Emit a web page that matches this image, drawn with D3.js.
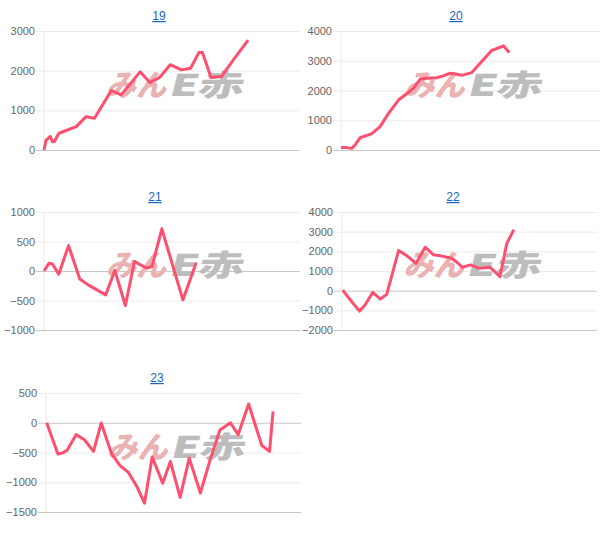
<!DOCTYPE html>
<head>
    <meta charset="utf-8">
    <style>
        body { margin: 0; background: #fff; }
        svg { display: block; font-family: Arial, "Liberation Sans", sans-serif; }
        .title { fill: #1565c0; font-size: 12px; text-decoration: underline; }
        .tick text { fill: #666; font-size: 11px; }
    </style>
</head>
<body>
    <script src="https://d3js.org/d3.v7.min.js"></script>
    <script>
        const w = 608, h = 540;

        // one series per season, x = day of year, y = running balance
        const titles = ['19', '20', '21', '22', '23'];
        const days19 = [0, 3, 9, 12, 15, 21, 27, 46, 60, 72, 96, 110, 137, 151, 165, 180, 196, 209, 221, 226, 238, 253, 270, 291];
        const vals19 = [0, 250, 340, 210, 215, 420, 460, 590, 840, 800, 1500, 1390, 1970, 1700, 1830, 2150, 2020, 2060, 2460, 2460, 1830, 1850, 2270, 2770];
        const days20 = [0, 8, 15, 20, 27, 34, 43, 55, 67, 81, 93, 102, 112, 121, 135, 144, 154, 161, 170, 184, 198, 212, 226, 229, 237];
        const vals20 = [80, 80, 55, 170, 415, 470, 540, 785, 1230, 1680, 1900, 2070, 2390, 2410, 2430, 2490, 2580, 2555, 2510, 2600, 2970, 3340, 3470, 3500, 3280];
        const days21 = [0, 7, 12, 21, 35, 51, 63, 88, 101, 116, 129, 146, 154, 168, 198, 217];
        const vals21 = [0, 130, 120, -55, 430, -135, -235, -405, 10, -585, 160, 50, 75, 715, -490, 145];
        const days22 = [1, 12, 25, 33, 44, 55, 64, 81, 93, 106, 119, 131, 141, 157, 165, 172, 184, 196, 212, 226, 236, 246];
        const vals22 = [30, -475, -1040, -730, -85, -425, -190, 2040, 1770, 1395, 2210, 1820, 1770, 1650, 1430, 1190, 1310, 1140, 1190, 715, 2415, 3095];
        const days23 = [1, 17, 23, 30, 43, 55, 68, 79, 94, 106, 118, 130, 141, 152, 167, 178, 192, 205, 221, 235, 249, 264, 275, 290, 309, 320, 325];
        const vals23 = [0, -525, -510, -465, -200, -285, -480, -5, -525, -720, -835, -1070, -1350, -575, -1015, -650, -1255, -595, -1180, -620, -120, 0, -200, 315, -385, -480, 190];

        const ticks19 = [0, 1000, 2000, 3000];
        const ticks20 = [0, 1000, 2000, 3000, 4000];
        const ticks21 = [-1000, -500, 0, 500, 1000];
        const ticks22 = [-2000, -1000, 0, 1000, 2000, 3000, 4000];
        const ticks23 = [-1500, -1000, -500, 0, 500];

        const series = [
            { days: days19, vals: vals19, ticks: ticks19 },
            { days: days20, vals: vals20, ticks: ticks20 },
            { days: days21, vals: vals21, ticks: ticks21 },
            { days: days22, vals: vals22, ticks: ticks22 },
            { days: days23, vals: vals23, ticks: ticks23 }
        ];

        // panel boxes on the page
        const boxes = [
            { l: 44, r: 300, t: 31, b: 150, tx: 159, ty: 20 },
            { l: 341, r: 600, t: 31, b: 150, tx: 456, ty: 20 },
            { l: 44, r: 300, t: 212, b: 330, tx: 155, ty: 201 },
            { l: 342, r: 597, t: 212, b: 330, tx: 453, ty: 201 },
            { l: 46, r: 301, t: 393, b: 512, tx: 157, ty: 382 }
        ];

        var svg = d3.select('body')
                    .append('svg')
                    .attr('width', w)
                    .attr('height', h);

        series.forEach((s, i) => {
            const bx = boxes[i];
            const x = d3.scaleLinear().domain([0, 365]).range([bx.l, bx.r]);
            const y = d3.scaleLinear().domain(d3.extent(s.ticks)).range([bx.b, bx.t]);
            const g = svg.append('g');

            g.append('text')
             .attr('class', 'title')
             .attr('x', bx.tx)
             .attr('y', bx.ty)
             .attr('text-anchor', 'middle')
             .text(titles[i]);

            // grid + labels
            const ax = g.append('g')
                        .attr('transform', `translate(${bx.l},0)`)
                        .call(d3.axisLeft(y)
                                .tickValues(s.ticks)
                                .tickFormat(d3.format('d'))
                                .tickSize(-(bx.r - bx.l))
                                .tickPadding(9));
            ax.select('.domain').remove();
            ax.selectAll('.tick line')
              .attr('x1', -8)
              .attr('stroke', d => (d === 0 || d === s.ticks[0]) ? '#c8c8c8' : '#ececec');
            g.append('line')
             .attr('x1', bx.l).attr('x2', bx.l)
             .attr('y1', bx.t).attr('y2', bx.b)
             .attr('stroke', '#ececec');

            // watermark
            const cx = (bx.l + bx.r) / 2, cy = (bx.t + bx.b) / 2 + 5;
            const wm = g.append('g')
                        .attr('transform', `translate(${cx},${cy}) skewX(-14)`)
                        .style('font-family', '"Noto Sans CJK JP", sans-serif')
                        .style('font-weight', '900')
                        .style('font-size', '30px');
            wm.append('text')
              .attr('x', -66).attr('y', 0)
              .attr('textLength', 60)
              .attr('lengthAdjust', 'spacingAndGlyphs')
              .attr('fill', '#eab2b2')
              .text('みん');
            wm.append('text')
              .attr('x', -4).attr('y', 0)
              .attr('textLength', 74)
              .attr('lengthAdjust', 'spacingAndGlyphs')
              .attr('fill', '#bdbdbd')
              .text('E赤');

            const line = d3.line()
                           .x((d, j) => x(s.days[j]))
                           .y(d => y(d));
            g.append('path')
             .datum(s.vals)
             .attr('fill', 'none')
             .attr('stroke', '#fd4f6f')
             .attr('stroke-width', 3)
             .attr('stroke-linejoin', 'round')
             .attr('d', line);
        });
    </script>
</body>
